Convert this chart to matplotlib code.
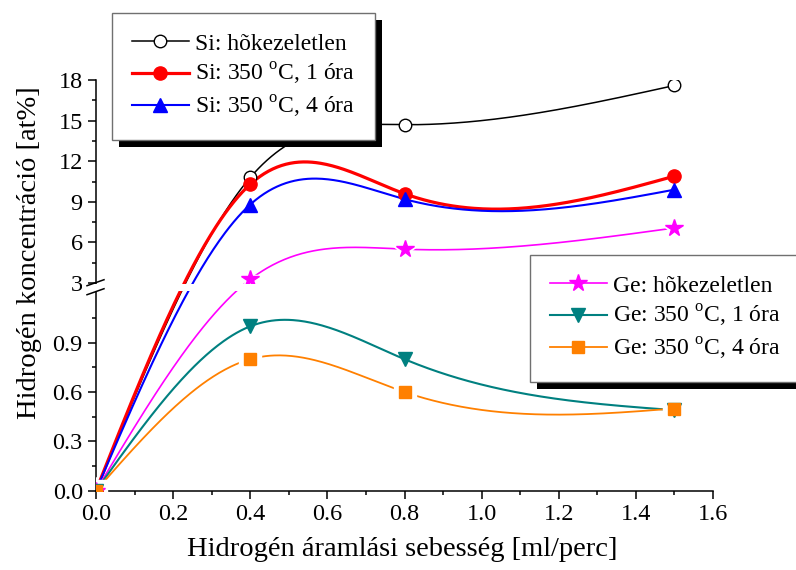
import numpy as np
import matplotlib
matplotlib.use('Agg')
import matplotlib.pyplot as plt
from matplotlib.lines import Line2D
from matplotlib.patches import Rectangle

plt.rcParams['font.family'] = 'Liberation Serif'
plt.rcParams['mathtext.fontset'] = 'custom'
plt.rcParams['mathtext.rm'] = 'Liberation Serif'

# data
flow = [0.0, 0.4, 0.8, 1.5]
si_raw = [0.0, 10.8, 14.7, 17.6]
si_1h = [0.0, 10.3, 9.6, 10.9]
si_4h = [0.0, 8.8, 9.2, 9.9]
ge_raw = [0.0, 3.27, 5.5, 7.07]
ge_1h = [0.0, 1.0, 0.8, 0.49]
ge_4h = [0.0, 0.8, 0.6, 0.5]

labels_si = ['Si: hõkezeletlen', r'Si: 350 $^{\rm o}$C, 1 óra', r'Si: 350 $^{\rm o}$C, 4 óra']
labels_ge = ['Ge: hõkezeletlen', r'Ge: 350 $^{\rm o}$C, 1 óra', r'Ge: 350 $^{\rm o}$C, 4 óra']

yticks = [0.0, 0.3, 0.6, 0.9, 3, 6, 9, 12, 15, 18]
yticklabels = ['0.0', '0.3', '0.6', '0.9', '3', '6', '9', '12', '15', '18']
yminor = [0.15, 0.45, 0.75, 1.05, 4.5, 7.5, 10.5, 13.5, 16.5]

# broken y axis: piecewise linear scale (units ~ pixels)
LO_TOP, HI_BOT = 1.2, 3.0
K_LO, K_HI, GAP = 164.4, 13.53, 10.4
B1 = LO_TOP * K_LO
B2 = B1 + GAP

def fwd(y):
    y = np.asarray(y, dtype=float)
    return np.where(y <= LO_TOP, y * K_LO,
                    np.where(y < HI_BOT, B1 + (y - LO_TOP) * GAP / (HI_BOT - LO_TOP),
                             B2 + (y - HI_BOT) * K_HI))

def inv(t):
    t = np.asarray(t, dtype=float)
    return np.where(t <= B1, t / K_LO,
                    np.where(t < B2, LO_TOP + (t - B1) * (HI_BOT - LO_TOP) / GAP,
                             HI_BOT + (t - B2) / K_HI))

def spline(x, y, xs):
    # natural cubic spline
    x = np.asarray(x, float); y = np.asarray(y, float)
    n = len(x); h = np.diff(x)
    A = np.zeros((n, n)); b = np.zeros(n)
    A[0, 0] = A[-1, -1] = 1
    for i in range(1, n - 1):
        A[i, i - 1] = h[i - 1]
        A[i, i] = 2 * (h[i - 1] + h[i])
        A[i, i + 1] = h[i]
        b[i] = 6 * ((y[i + 1] - y[i]) / h[i] - (y[i] - y[i - 1]) / h[i - 1])
    M = np.linalg.solve(A, b)
    k = np.clip(np.searchsorted(x, xs) - 1, 0, n - 2)
    x0, x1, hk = x[k], x[k + 1], h[k]
    return (M[k] * (x1 - xs) ** 3 / (6 * hk) + M[k + 1] * (xs - x0) ** 3 / (6 * hk)
            + (y[k] / hk - M[k] * hk / 6) * (x1 - xs)
            + (y[k + 1] / hk - M[k + 1] * hk / 6) * (xs - x0))

W, H = 796, 570
fig = plt.figure(figsize=(W / 100, H / 100), dpi=100)
ax_l, ax_b, ax_w = 96, 490.7, 617
ax_h = float(fwd(18))
ax = fig.add_axes([ax_l / W, 1 - ax_b / H, ax_w / W, ax_h / H])
ax.set_yscale('function', functions=(fwd, inv))
ax.set_xlim(0, 1.6)
ax.set_ylim(0, 18)

series = [
    (si_raw, 'black', 1.1, 'o', 9, 'white', False),
    (si_1h, 'red', 2.3, 'o', 9.5, 'red', False),
    (si_4h, 'blue', 1.5, '^', 10, 'blue', False),
    (ge_raw, '#ff00ff', 1.2, '*', 13, '#ff00ff', True),
    (ge_1h, '#008080', 1.5, 'v', 10, '#008080', False),
    (ge_4h, '#ff8000', 1.3, 's', 8.5, '#ff8000', True),
]

xs = np.linspace(0, 1.5, 400)
handles = []
for vals, c, lw, m, ms, fc, halo in series:
    ys = inv(spline(flow, fwd(vals), xs))
    ax.plot(xs, ys, '-', color=c, lw=lw, zorder=2)
    if halo:
        ax.plot(flow, vals, ls='none', marker=m, ms=ms + 7, mfc='white', mec='white', zorder=3)
    ax.plot(flow, vals, ls='none', marker=m, ms=ms, mfc=fc, mec=c, mew=1.0, zorder=4)
    handles.append(Line2D([], [], color=c, lw=lw, marker=m, ms=ms, mfc=fc, mec=c, mew=1.0))

ax.set_xticks(np.arange(0, 1.61, 0.2))
ax.set_xticklabels(['%.1f' % v for v in np.arange(0, 1.61, 0.2)])
ax.set_xticks(np.arange(0.1, 1.6, 0.2), minor=True)
ax.set_yticks(yticks, yticklabels)
ax.set_yticks(yminor, minor=True)
ax.tick_params(which='both', direction='out', width=1.1, labelsize=17.5)
ax.tick_params(which='major', length=5.5, pad=4)
ax.tick_params(which='minor', length=3)
for s in ['top', 'right']:
    ax.spines[s].set_visible(False)
for s in ['left', 'bottom']:
    ax.spines[s].set_linewidth(1.1)

# axis break: white band plus two slashes
px_x = 1 / ax_w
px_y = 1 / ax_h
mid = (B1 + B2) / 2 / ax_h + 1 * px_y
ax.add_patch(Rectangle((-14 * px_x, mid - 3.5 * px_y), 1 + 14 * px_x, 7 * px_y,
                       transform=ax.transAxes, facecolor='white', edgecolor='none',
                       clip_on=False, zorder=6))
for off in (-4.5, 4.5):
    ax.plot([-9 * px_x, 8 * px_x], [mid + (off - 3) * px_y, mid + (off + 3) * px_y],
            color='black', lw=1.1, transform=ax.transAxes, clip_on=False, zorder=7)

fig.text(402 / W, 1 - 550 / H, 'Hidrogén áramlási sebesség [ml/perc]',
         ha='center', va='center', fontsize=20.5)
fig.text(30 / W, 1 - 253 / H, 'Hidrogén koncentráció [at%]',
         ha='center', va='center', rotation=90, fontsize=20.5)

leg_kw = dict(loc='upper left', bbox_transform=fig.transFigure, borderaxespad=0,
              fancybox=False, framealpha=1, edgecolor='#707070', fontsize=17,
              handlelength=2.4, handletextpad=0.25, labelspacing=0.28, borderpad=0.85,
              numpoints=1)
leg1 = fig.legend(handles[:3], labels_si, bbox_to_anchor=(112 / W, 1 - 13 / H), **leg_kw)
leg2 = fig.legend(handles[3:], labels_ge, bbox_to_anchor=(530 / W, 1 - 255 / H), **leg_kw)
for lg in (leg1, leg2):
    lg.get_frame().set_linewidth(1.0)

fig.canvas.draw()
for lg in (leg1, leg2):
    bb = lg.get_window_extent()
    fig.add_artist(Rectangle(((bb.x0 + 7) / W, (bb.y0 - 7) / H), bb.width / W, bb.height / H,
                             transform=fig.transFigure, facecolor='black', edgecolor='none',
                             zorder=4.9))

fig.savefig('out.png', dpi=100)
